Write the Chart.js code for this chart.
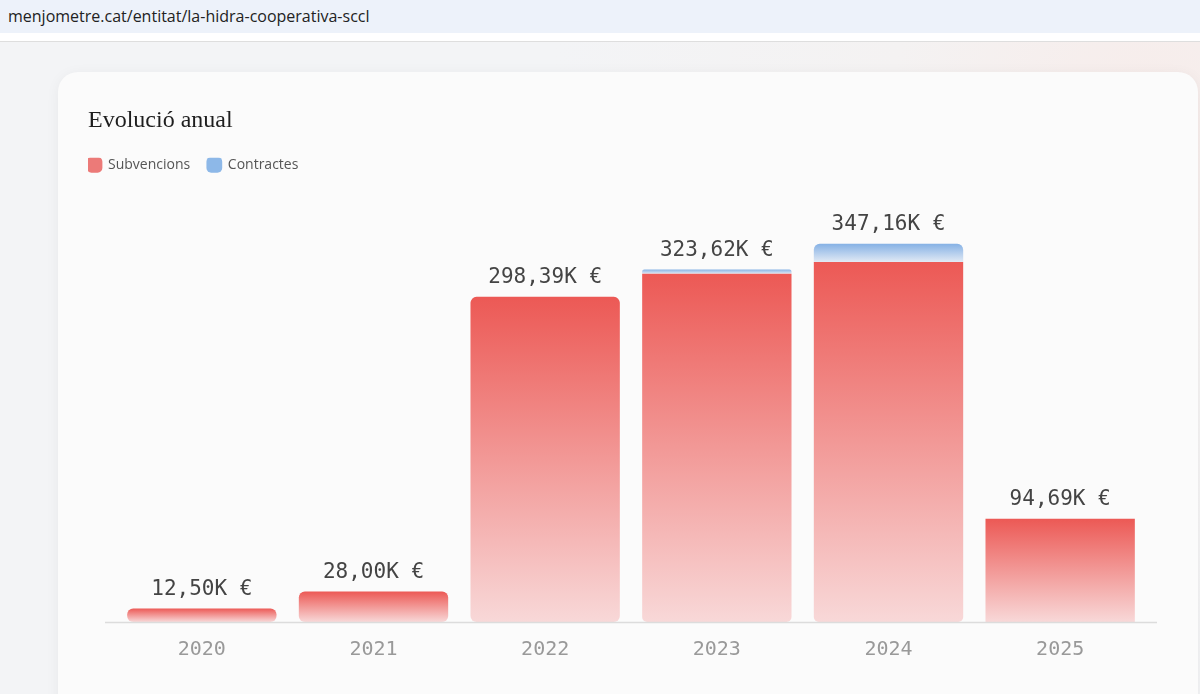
<!DOCTYPE html>
<html>
<head>
<meta charset="utf-8">
<script src="https://cdn.jsdelivr.net/npm/chart.js@4.4.1/dist/chart.umd.min.js"></script>
<style>
  html, body { margin: 0; padding: 0; }
  body {
    width: 1200px; height: 694px; overflow: hidden; position: relative;
    background: radial-gradient(circle at 1150px 120px, #f7ecea 0, #f4f2f2 260px, #f3f4f6 600px);
    font-family: "Open Sans", "Noto Sans", sans-serif;
  }
  #urlbar {
    position: absolute; left: 0; top: 0; width: 1200px; height: 33px;
    background: #edf2fa; color: #222; font-size: 16px; line-height: 33px;
    padding-left: 8px; box-sizing: border-box;
  }
  #strip { position: absolute; left: 0; top: 33px; width: 1200px; height: 8px; background: #fff; border-bottom: 1px solid #dedede; }
  #card {
    position: absolute; left: 58px; top: 72px; width: 1140px; height: 680px;
    background: #fbfbfb; border-radius: 20px;
    box-shadow: 0 2px 14px rgba(0,0,0,0.05);
  }
  #wrap { position: absolute; left: 78px; top: 92px; width: 1110px; height: 602px; }
</style>
</head>
<body>
<div id="urlbar">menjometre.cat/entitat/la-hidra-cooperativa-sccl</div>
<div id="strip"></div>
<div id="card"></div>
<div id="wrap"><canvas id="myChart"></canvas></div>
<script>
const years = ['2020', '2021', '2022', '2023', '2024', '2025']
const subvencions = [12.50, 28.00, 298.39, 319.60, 330.50, 94.69]
const contractes = [0, 0, 0, 4.02, 16.66, 0]

const fmt = (v) => v.toFixed(2).replace('.', ',') + 'K €'

// gradient per bar, from the top of the segment to its base
const barGradient = (top, bottom) => (context) => {
    const chart = context.chart
    if (!chart.chartArea) return top
    const y = chart.scales.y
    const i = context.dataIndex
    let lo = 0, hi = 0
    if (context.datasetIndex === 0) { lo = 0; hi = subvencions[i] }
    else { lo = subvencions[i]; hi = subvencions[i] + contractes[i] }
    const y0 = y.getPixelForValue(hi)
    const y1 = y.getPixelForValue(lo)
    if (!isFinite(y0) || !isFinite(y1) || y0 === y1) return top
    const g = chart.ctx.createLinearGradient(0, y0, 0, y1)
    g.addColorStop(0, top)
    g.addColorStop(1, bottom)
    return g
}

const totalsPlugin = {
    id: 'totals',
    afterDatasetsDraw(chart) {
        const ctx = chart.ctx
        const y = chart.scales.y
        const x = chart.scales.x
        ctx.save()
        ctx.font = '21px "DejaVu Sans Mono", monospace'
        ctx.fillStyle = '#444'
        ctx.textAlign = 'center'
        ctx.textBaseline = 'middle'
        years.forEach((yr, i) => {
            const total = subvencions[i] + contractes[i]
            ctx.fillText(fmt(total), x.getPixelForValue(i), y.getPixelForValue(total) - 19)
        })
        // base line
        ctx.strokeStyle = '#dcdcdc'
        ctx.lineWidth = 1.5
        ctx.beginPath()
        ctx.moveTo(chart.chartArea.left - 11, chart.chartArea.bottom + 0.5)
        ctx.lineTo(chart.chartArea.right + 11, chart.chartArea.bottom + 0.5)
        ctx.stroke()
        ctx.restore()
    }
}

let ctx = document.getElementById('myChart').getContext('2d')
let myChart = new Chart(ctx, {
    type: 'bar',
    data: {
        labels: years,
        datasets: [{
            label: 'Subvencions',
            data: subvencions,
            backgroundColor: barGradient('#ec5955', '#f8d8d8'),
            borderRadius: (c) => {
                const i = c.dataIndex
                if (i === 5) return 0
                if (contractes[i] > 0) return { topLeft: 0, topRight: 0, bottomLeft: 5, bottomRight: 5 }
                return 6
            },
            borderSkipped: false
        }, {
            label: 'Contractes',
            data: contractes,
            backgroundColor: barGradient('#85b1e5', '#e1e9f4'),
            borderRadius: { topLeft: 6, topRight: 6, bottomLeft: 0, bottomRight: 0 },
            borderSkipped: false
        }]
    },
    options: {
        responsive: true,
        maintainAspectRatio: false,
        animation: false,
        layout: { padding: { left: 10, right: 42, top: 0, bottom: 24 } },
        datasets: { bar: { barPercentage: 0.87, categoryPercentage: 1 } },
        plugins: {
            title: {
                display: true,
                text: 'Evolució anual',
                align: 'start',
                color: '#1e1e1e',
                font: { family: '"Liberation Serif", serif', size: 24, weight: 'normal' },
                padding: { top: 14, bottom: 23 }
            },
            legend: {
                display: true,
                align: 'start',
                labels: {
                    usePointStyle: true,
                    pointStyle: 'rectRounded',
                    boxWidth: 13,
                    boxHeight: 13,
                    color: '#555',
                    font: { family: '"Open Sans", sans-serif', size: 14 },
                    padding: 0,
                    generateLabels: (chart) => chart.data.datasets.map((d, i) => ({
                        text: d.label + '\u2002\u2002 ',
                        fillStyle: i === 0 ? '#ec7a78' : '#8db8e8',
                        strokeStyle: i === 0 ? '#ec7a78' : '#8db8e8',
                        lineWidth: 0,
                        pointStyle: 'rectRounded',
                        fontColor: '#555',
                        datasetIndex: i
                    }))
                }
            },
            tooltip: { enabled: false }
        },
        scales: {
            x: {
                stacked: true,
                grid: { display: false },
                border: { display: false },
                ticks: {
                    color: '#999',
                    font: { family: '"DejaVu Sans Mono", monospace', size: 20 },
                    padding: 8
                }
            },
            y: {
                stacked: true,
                min: 0,
                max: 404,
                grid: { display: false },
                border: { display: false },
                ticks: { display: false },
                afterFit: (scale) => { scale.width = 28 }
            }
        }
    },
    plugins: [totalsPlugin]
});
</script>
</body>
</html>
